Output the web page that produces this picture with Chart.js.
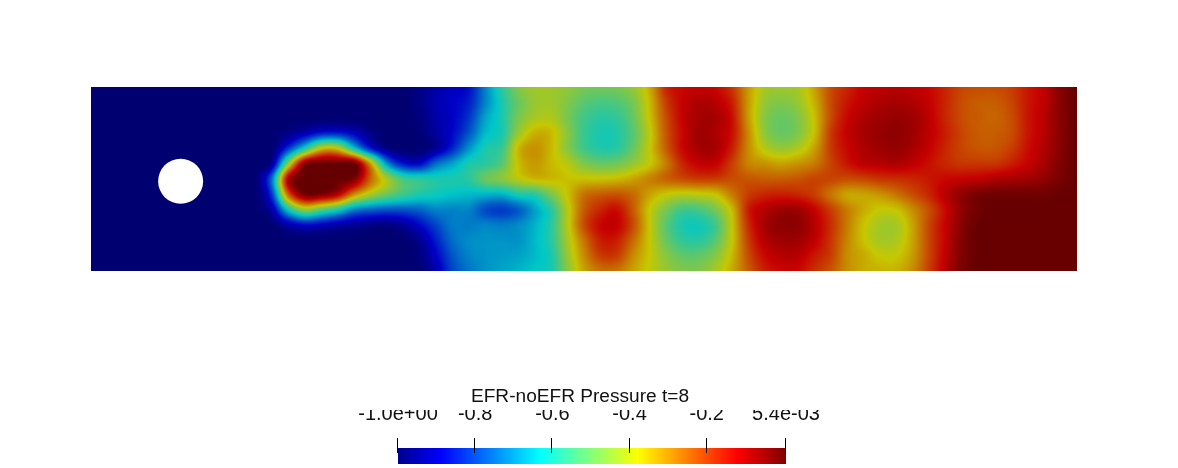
<!DOCTYPE html>
<html>
<head>
<meta charset="utf-8">
<title>EFR-noEFR Pressure t=8</title>
<script src="https://cdn.jsdelivr.net/npm/chart.js@4"></script>
<style>
  html, body { margin: 0; padding: 0; background: #fff; overflow: hidden; }
  canvas { position: absolute; left: 0; top: 0; }
</style>
</head>
<body>
<canvas id="field" width="1178" height="468"></canvas>
<canvas id="colorbar" width="1178" height="468"></canvas>
<script>
const barTitle = "EFR-noEFR Pressure t=8";
const tickValues = [-1, -0.8, -0.6, -0.4, -0.2, 0.0054];
const tickLabels = ["-1.0e+00", "-0.8", "-0.6", "-0.4", "-0.2", "5.4e-03"];
const pressureRange = [-1, 0.0054];

// channel coordinates of the sampled grid
const xGrid = [0, 0.0367, 0.0733, 0.11, 0.1467, 0.1833, 0.22, 0.2567, 0.2933, 0.33, 0.3667, 0.4033, 0.44, 0.4767, 0.5133, 0.55, 0.5867, 0.6233, 0.66, 0.6967, 0.7333, 0.77, 0.8067, 0.8433, 0.88, 0.9167, 0.9533, 0.99, 1.0267, 1.0633, 1.1, 1.1367, 1.1733, 1.21, 1.2467, 1.2833, 1.32, 1.3567, 1.3933, 1.43, 1.4667, 1.5033, 1.54, 1.5767, 1.6133, 1.65, 1.6867, 1.7233, 1.76, 1.7967, 1.8333, 1.87, 1.9067, 1.9433, 1.98, 2.0167, 2.0533, 2.09, 2.1267, 2.1633, 2.2];
const yGrid = [0.41, 0.3758, 0.3417, 0.3075, 0.2733, 0.2392, 0.205, 0.1708, 0.1367, 0.1025, 0.0683, 0.0342, 0];
const cylinder = [0.2, 0.2];

// pressure, one list per row from top to bottom
const row0 = [-1,-1,-1,-1,-1,-1,-1,-1,-1,-1,-1,-1,-1,-1,-1,-1,-1,-1,-1,-1,-.97,-.93,-.9,-.87,-.72,-.58,-.47,-.43,-.43,-.45,-.48,-.49,-.48,-.44,-.34,-.17,-.13,-.12,-.13,-.19,-.32,-.42,-.43,-.42,-.33,-.22,-.17,-.12,-.11,-.1,-.11,-.13,-.17,-.21,-.22,-.22,-.2,-.15,-.11,-.04,0];
const row1 = [-1,-1,-1,-1,-1,-1,-1,-1,-1,-1,-1,-1,-1,-1,-1,-1,-1,-1,-1,-1,-.97,-.92,-.89,-.85,-.72,-.6,-.5,-.44,-.43,-.47,-.52,-.54,-.53,-.48,-.36,-.2,-.12,-.09,-.1,-.16,-.32,-.44,-.47,-.44,-.35,-.22,-.15,-.11,-.09,-.08,-.09,-.12,-.17,-.22,-.24,-.24,-.21,-.15,-.11,-.04,0];
const row2 = [-1,-1,-1,-1,-1,-1,-1,-1,-1,-1,-1,-1,-1,-1,-1,-1,-1,-1,-1,-1,-.98,-.93,-.89,-.82,-.68,-.6,-.48,-.42,-.41,-.48,-.55,-.58,-.57,-.5,-.37,-.22,-.12,-.08,-.08,-.14,-.32,-.46,-.5,-.47,-.37,-.22,-.13,-.09,-.07,-.06,-.07,-.11,-.17,-.22,-.24,-.25,-.22,-.15,-.1,-.04,0];
const row3 = [-1,-1,-1,-1,-1,-1,-1,-1,-1,-1,-1,-1,-.97,-.92,-.86,-.85,-.9,-.97,-1,-1,-.99,-.94,-.88,-.78,-.65,-.6,-.44,-.35,-.36,-.46,-.56,-.6,-.59,-.52,-.39,-.23,-.13,-.07,-.09,-.14,-.3,-.45,-.5,-.47,-.37,-.2,-.12,-.08,-.06,-.05,-.07,-.11,-.16,-.21,-.24,-.24,-.22,-.15,-.1,-.04,0];
const row4 = [-1,-1,-1,-1,-1,-1,-1,-1,-1,-1,-1,-1,-.82,-.6,-.38,-.38,-.62,-.85,-.97,-1,-1,-.95,-.84,-.7,-.6,-.56,-.36,-.31,-.36,-.46,-.55,-.59,-.58,-.5,-.38,-.24,-.13,-.08,-.08,-.16,-.3,-.4,-.44,-.41,-.33,-.2,-.13,-.09,-.07,-.06,-.08,-.12,-.17,-.21,-.23,-.23,-.2,-.14,-.09,-.04,0];
const row5 = [-1,-1,-1,-1,-1,-1,-1,-1,-1,-1,-1,-.95,-.45,-.05,0,0,0,-.32,-.7,-.86,-.88,-.75,-.68,-.6,-.58,-.52,-.37,-.32,-.36,-.4,-.47,-.5,-.49,-.44,-.38,-.28,-.17,-.12,-.12,-.2,-.29,-.31,-.33,-.31,-.28,-.21,-.15,-.11,-.1,-.09,-.11,-.14,-.17,-.19,-.19,-.19,-.16,-.12,-.08,-.03,0];
const row6 = [-1,-1,-1,-1,-1,-1,-1,-1,-1,-1,-1,-.75,-.1,0,0,0,-.03,-.25,-.42,-.55,-.58,-.6,-.6,-.58,-.5,-.46,-.4,-.36,-.36,-.37,-.37,-.37,-.36,-.33,-.29,-.25,-.22,-.2,-.2,-.22,-.23,-.24,-.24,-.23,-.21,-.21,-.22,-.21,-.19,-.18,-.17,-.15,-.13,-.12,-.11,-.09,-.08,-.07,-.05,-.02,0];
const row7 = [-1,-1,-1,-1,-1,-1,-1,-1,-1,-1,-1,-.82,-.25,-.02,-.03,-.1,-.3,-.42,-.5,-.56,-.6,-.62,-.64,-.65,-.66,-.66,-.6,-.58,-.48,-.37,-.27,-.24,-.23,-.26,-.33,-.38,-.4,-.39,-.37,-.28,-.2,-.17,-.16,-.17,-.2,-.27,-.33,-.33,-.31,-.27,-.22,-.17,-.1,-.05,-.02,-.01,-.01,-.01,-.01,0,0];
const row8 = [-1,-1,-1,-1,-1,-1,-1,-1,-1,-1,-1,-.93,-.62,-.45,-.52,-.6,-.72,-.76,-.78,-.78,-.76,-.72,-.72,-.72,-.79,-.81,-.77,-.68,-.58,-.4,-.24,-.17,-.14,-.24,-.38,-.48,-.55,-.54,-.48,-.36,-.16,-.1,-.07,-.07,-.12,-.2,-.28,-.34,-.38,-.37,-.3,-.22,-.13,-.05,-.01,0,0,0,0,0,0];
const row9 = [-1,-1,-1,-1,-1,-1,-1,-1,-1,-1,-1,-1,-.93,-.88,-.9,-.93,-.95,-.97,-.98,-.95,-.88,-.8,-.73,-.73,-.72,-.73,-.71,-.66,-.58,-.4,-.22,-.13,-.12,-.22,-.38,-.52,-.6,-.61,-.55,-.38,-.18,-.08,-.05,-.05,-.1,-.18,-.28,-.37,-.42,-.42,-.33,-.21,-.12,-.04,0,0,0,0,0,0,0];
const row10 = [-1,-1,-1,-1,-1,-1,-1,-1,-1,-1,-1,-1,-1,-1,-1,-1,-1,-1,-1,-1,-.96,-.85,-.75,-.71,-.7,-.7,-.7,-.65,-.58,-.42,-.27,-.16,-.16,-.26,-.38,-.5,-.57,-.58,-.52,-.38,-.2,-.1,-.07,-.07,-.11,-.19,-.29,-.37,-.42,-.41,-.33,-.21,-.12,-.03,0,0,0,0,0,0,0];
const row11 = [-1,-1,-1,-1,-1,-1,-1,-1,-1,-1,-1,-1,-1,-1,-1,-1,-1,-1,-1,-1,-.98,-.89,-.78,-.72,-.7,-.69,-.68,-.65,-.6,-.44,-.3,-.2,-.2,-.3,-.38,-.46,-.51,-.51,-.46,-.36,-.22,-.13,-.1,-.1,-.15,-.2,-.3,-.34,-.38,-.38,-.32,-.21,-.11,-.03,0,0,0,0,0,0,0];
const row12 = [-1,-1,-1,-1,-1,-1,-1,-1,-1,-1,-1,-1,-1,-1,-1,-1,-1,-1,-1,-1,-.99,-.92,-.8,-.74,-.7,-.68,-.66,-.63,-.6,-.46,-.33,-.27,-.27,-.33,-.39,-.44,-.47,-.47,-.42,-.34,-.24,-.16,-.13,-.13,-.18,-.23,-.3,-.34,-.35,-.35,-.3,-.2,-.1,-.02,0,0,0,0,0,0,0];
const pressureRows = [row0, row1, row2, row3, row4, row5, row6, row7, row8, row9, row10, row11, row12];

// ParaView jet
const jetStops = [
  [0, 0, 0, 143],
  [0.111, 0, 0, 255],
  [0.365, 0, 255, 255],
  [0.492, 128, 255, 128],
  [0.619, 255, 255, 0],
  [0.873, 255, 0, 0],
  [1, 128, 0, 0]
];
const fieldShade = 0.78;

function jet(value) {
  let t = (value - pressureRange[0]) / (pressureRange[1] - pressureRange[0]);
  t = Math.min(1, Math.max(0, t));
  for (let i = 1; i < jetStops.length; i++) {
    const a = jetStops[i - 1], b = jetStops[i];
    if (t <= b[0]) {
      const f = (t - a[0]) / (b[0] - a[0]);
      return [a[1] + (b[1] - a[1]) * f, a[2] + (b[2] - a[2]) * f, a[3] + (b[3] - a[3]) * f];
    }
  }
  return jetStops[jetStops.length - 1].slice(1);
}

function shaded(value) {
  const c = jet(value);
  return `rgb(${c[0] * fieldShade}, ${c[1] * fieldShade}, ${c[2] * fieldShade})`;
}

function cubic(a, b, c, d, f) {
  return b + 0.5 * f * (c - a + f * (2 * a - 5 * b + 4 * c - d + f * (3 * (b - c) + d - a)));
}

function cell(j, i) {
  const r = pressureRows[Math.min(yGrid.length - 1, Math.max(0, j))];
  return r[Math.min(xGrid.length - 1, Math.max(0, i))];
}

// smooth reading between the grid values, the way the renderer blends a mesh
function sample(x, y) {
  const u = (x - xGrid[0]) / (xGrid[xGrid.length - 1] - xGrid[0]) * (xGrid.length - 1);
  const v = (y - yGrid[0]) / (yGrid[yGrid.length - 1] - yGrid[0]) * (yGrid.length - 1);
  const i = Math.min(xGrid.length - 2, Math.max(0, Math.floor(u)));
  const j = Math.min(yGrid.length - 2, Math.max(0, Math.floor(v)));
  const fx = Math.min(1, Math.max(0, u - i));
  const fy = Math.min(1, Math.max(0, v - j));
  const across = [];
  for (let k = -1; k <= 2; k++) {
    across.push(cubic(cell(j + k, i - 1), cell(j + k, i), cell(j + k, i + 1), cell(j + k, i + 2), fx));
  }
  return cubic(across[0], across[1], across[2], across[3], fy);
}

const cells = [];
yGrid.forEach((y, j) => {
  xGrid.forEach((x, i) => {
    cells.push({ x: x, y: y, v: pressureRows[j][i] });
  });
});

// paints the cells as a continuous field, value by value through the scales
const smoothField = {
  id: "smoothField",
  afterDatasetDraw(chart, args) {
    if (args.index !== 0) return;
    const area = chart.chartArea;
    const xScale = chart.scales.x, yScale = chart.scales.y;
    const w = Math.round(area.right - area.left), h = Math.round(area.bottom - area.top);
    const off = document.createElement("canvas");
    off.width = w;
    off.height = h;
    const offCtx = off.getContext("2d");
    const img = offCtx.createImageData(w, h);
    for (let py = 0; py < h; py++) {
      const y = yScale.getValueForPixel(area.top + py + 0.5);
      for (let px = 0; px < w; px++) {
        const x = xScale.getValueForPixel(area.left + px + 0.5);
        const c = jet(sample(x, y));
        const k = (py * w + px) * 4;
        img.data[k] = c[0] * fieldShade;
        img.data[k + 1] = c[1] * fieldShade;
        img.data[k + 2] = c[2] * fieldShade;
        img.data[k + 3] = 255;
      }
    }
    offCtx.putImageData(img, 0, 0);
    chart.ctx.drawImage(off, area.left, area.top);
  }
};

new Chart(document.getElementById("field"), {
  type: "scatter",
  data: {
    datasets: [
      {
        label: "Pressure",
        data: cells,
        order: 2,
        clip: 0,
        pointStyle: "rect",
        pointRadius: 12,
        borderWidth: 0,
        backgroundColor: cells.map(c => shaded(c.v))
      },
      {
        label: "Cylinder",
        data: [{ x: cylinder[0], y: cylinder[1] }],
        order: 1,
        pointStyle: "circle",
        pointRadius: 22.5,
        borderWidth: 0,
        backgroundColor: "#ffffff"
      }
    ]
  },
  options: {
    responsive: false,
    animation: false,
    events: [],
    layout: { padding: { left: 91, right: 101, top: 87, bottom: 197 } },
    plugins: { legend: { display: false }, tooltip: { enabled: false } },
    scales: {
      x: { type: "linear", display: false, min: 0, max: 2.2 },
      y: { type: "linear", display: false, min: 0, max: 0.41 }
    }
  },
  plugins: [smoothField]
});

// the title sits left of the bar's centre; tick marks run a little way into the bar
const barTicks = {
  id: "barTicks",
  afterDraw(chart) {
    const ctx = chart.ctx, area = chart.chartArea, xScale = chart.scales.x;
    ctx.save();
    ctx.strokeStyle = "#000";
    ctx.lineWidth = 1;
    tickValues.forEach(v => {
      const px = Math.round(xScale.getPixelForValue(v)) - 0.5;
      ctx.beginPath();
      ctx.moveTo(px, area.top - 10);
      ctx.lineTo(px, area.top + 5);
      ctx.stroke();
    });
    ctx.fillStyle = "#111";
    ctx.font = "19.1px 'Liberation Sans'";
    ctx.textAlign = "center";
    ctx.textBaseline = "middle";
    ctx.fillText(barTitle, 580, 397);
    ctx.restore();
  }
};

new Chart(document.getElementById("colorbar"), {
  type: "bar",
  data: {
    labels: ["Pressure"],
    datasets: [{
      data: [pressureRange],
      categoryPercentage: 1,
      barPercentage: 1,
      borderWidth: 0,
      backgroundColor(ctx) {
        const area = ctx.chart.chartArea;
        if (!area) return "#000";
        const g = ctx.chart.ctx.createLinearGradient(area.left, 0, area.right, 0);
        jetStops.forEach(s => g.addColorStop(s[0], `rgb(${s[1]}, ${s[2]}, ${s[3]})`));
        return g;
      }
    }]
  },
  options: {
    indexAxis: "y",
    responsive: false,
    animation: false,
    events: [],
    layout: { padding: { left: 398, right: 392, top: 410, bottom: 4 } },
    plugins: { legend: { display: false }, tooltip: { enabled: false } },
    scales: {
      y: { display: false },
      x: {
        position: "top",
        min: pressureRange[0],
        max: pressureRange[1],
        grid: { display: false },
        border: { display: false },
        afterBuildTicks(axis) {
          axis.ticks = tickValues.map(v => ({ value: v }));
        },
        afterFit(axis) {
          axis.height = 38;
        },
        ticks: {
          autoSkip: false,
          maxRotation: 0,
          padding: 14,
          color: "#111",
          font: { family: "Liberation Sans", size: 20 },
          callback(value, index) {
            return tickLabels[index];
          }
        }
      }
    }
  },
  plugins: [barTicks]
});
</script>
</body>
</html>
